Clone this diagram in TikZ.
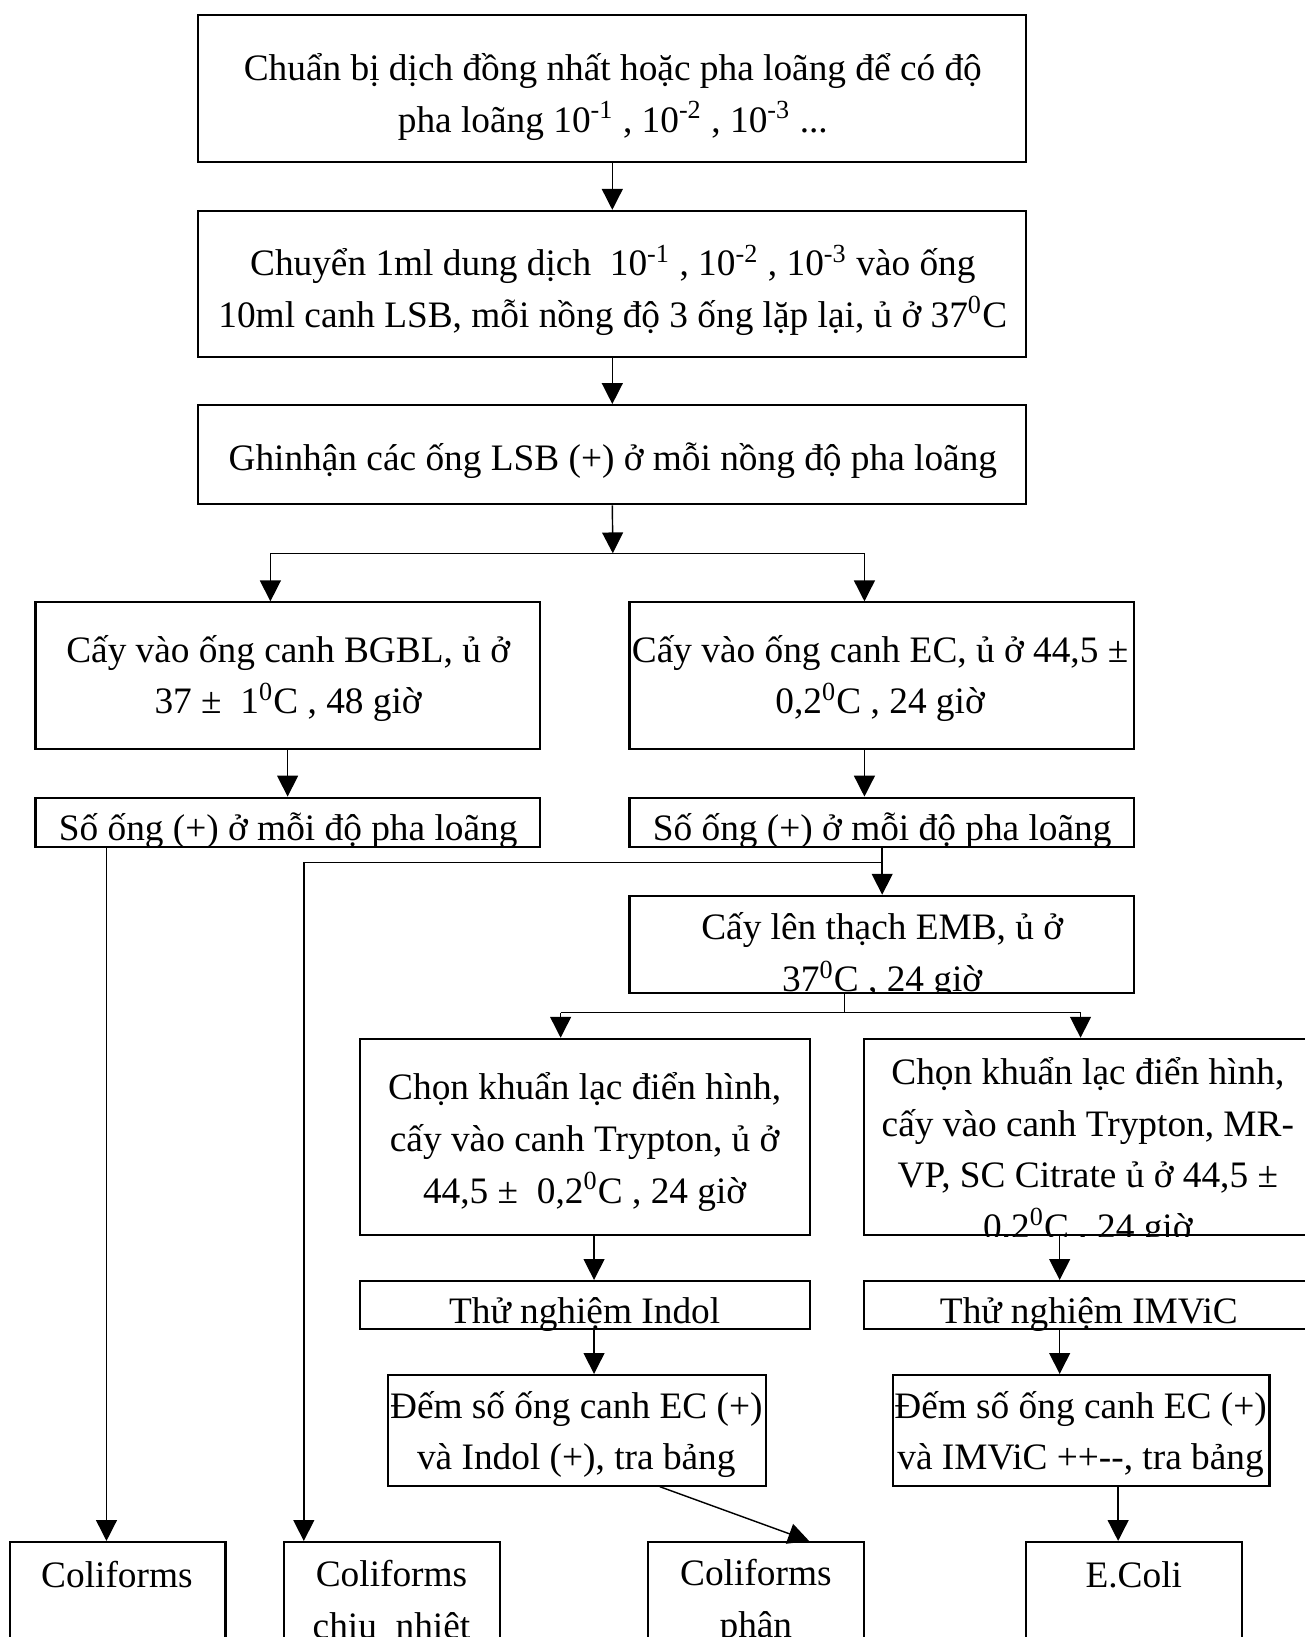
\documentclass[tikz,border=0pt]{standalone}
\usepackage{fontspec}
\setmainfont{Liberation Serif}
\usetikzlibrary{arrows.meta,calc,fit}

\tikzset{
  box/.style={draw, line width=0.8pt, inner sep=0pt},
  txt/.style={align=center, inner sep=0pt, font=\fontsize{14.3}{19.8}\selectfont},
  >={Triangle[length=8pt,width=8pt]},
}

\begin{document}
\begin{tikzpicture}[x=0.4pt,y=-0.4pt,line width=0.55pt]
\useasboundingbox (0,0) rectangle (1250,1568);

% boxes
\node[box, fit={(190,14) (983,155)}] (b1) {};
\node[box, fit={(190,202) (983,342)}] (b2) {};
\node[box, fit={(190,388) (983,483)}] (b3) {};
\node[box, fit={(34,577) (517,717)}] (b4) {};
\node[box, fit={(603,577) (1086,717)}] (b5) {};
\node[box, fit={(34,764) (517,811)}] (b6) {};
\node[box, fit={(603,764) (1086,811)}] (b7) {};
\node[box, fit={(603,858) (1086,951)}] (b8) {};
\node[box, fit={(345,995) (776,1183)}] (b9) {};
\node[box, fit={(828,995) (1262,1183)}] (b10) {};
\node[box, fit={(345,1227) (776,1273)}] (b11) {};
\node[box, fit={(828,1227) (1262,1273)}] (b12) {};
\node[box, fit={(372,1317) (734,1423)}] (b13) {};
\node[box, fit={(855,1317) (1216,1423)}] (b14) {};
\node[box, fit={(10,1477) (216,1650)}] (b15) {};
\node[box, fit={(272,1477) (479,1650)}] (b16) {};
\node[box, fit={(621,1477) (828,1650)}] (b17) {};
\node[box, fit={(983,1477) (1190,1650)}] (b18) {};

% texts
\node[txt] (t1) at (587,93) {Chuẩn bị dịch đồng nhất hoặc pha loãng để có độ\\
  pha loãng 10\textsuperscript{-1} , 10\textsuperscript{-2} , 10\textsuperscript{-3} ...};
\node[txt] (t2) at (587,278) {Chuyển 1ml dung dịch~ 10\textsuperscript{-1} , 10\textsuperscript{-2} , 10\textsuperscript{-3} vào ống\\
  10ml canh LSB, mỗi nồng độ 3 ống lặp lại, ủ ở 37\textsuperscript{0}C};
\node[txt] (t3) at (587,441) {Ghinhận các ống LSB (+) ở mỗi nồng độ pha loãng};
\node[txt] (t4) at (276,650) {Cấy vào ống canh BGBL, ủ ở\\37 ±~ 1\textsuperscript{0}C , 48 giờ};
\node[txt] (t5) at (843,650) {Cấy vào ống canh EC, ủ ở 44,5 ±\\0,2\textsuperscript{0}C , 24 giờ};
\begin{scope}
  \clip (b6.south west) rectangle (b6.north east);
  \node[txt] (t6) at (276,796) {Số ống (+) ở mỗi độ pha loãng};
\end{scope}
\begin{scope}
  \clip (b7.south west) rectangle (b7.north east);
  \node[txt] (t7) at (845,796) {Số ống (+) ở mỗi độ pha loãng};
\end{scope}
\begin{scope}
  \clip (b8.south west) rectangle (b8.north east);
  \node[txt] (t8) at (845,916) {Cấy lên thạch EMB, ủ ở\\37\textsuperscript{0}C , 24 giờ};
\end{scope}
\node[txt] (t9) at (560,1094) {Chọn khuẩn lạc điển hình,\\cấy vào canh Trypton, ủ ở\\44,5 ±~ 0,2\textsuperscript{0}C , 24 giờ};
\begin{scope}
  \clip (b10.south west) rectangle (b10.north east);
  \node[txt] (t10) at (1042,1104) {Chọn khuẩn lạc điển hình,\\cấy vào canh Trypton, MR-\\VP, SC Citrate ủ ở 44,5 ±\\0,2\textsuperscript{0}C , 24 giờ};
\end{scope}
\begin{scope}
  \clip (b11.south west) rectangle (b11.north east);
  \node[txt] (t11) at (560,1259) {Thử nghiệm Indol};
\end{scope}
\begin{scope}
  \clip (b12.south west) rectangle (b12.north east);
  \node[txt] (t12) at (1043,1259) {Thử nghiệm IMViC};
\end{scope}
\node[txt] (t13) at (552,1374) {Đếm số ống canh EC (+)\\và Indol (+), tra bảng};
\node[txt] (t14) at (1035,1374) {Đếm số ống canh EC (+)\\và IMViC ++-{}-, tra bảng};
\node[txt] (t15) at (112,1508) {Coliforms};
\node[txt] (t16) at (375,1535) {Coliforms\\chịu~ nhiệt};
\node[txt] (t17) at (724,1535) {Coliforms\\phân};
\node[txt] (t18) at (1086,1508) {E.Coli};

% connectors
\coordinate (s0) at (587,530);
\coordinate (s1) at (259,530);
\coordinate (s2) at (828,530);
\coordinate (k1) at (845,826);
\coordinate (k2) at (291,826);
\coordinate (k3) at (102,811);
\coordinate (m0) at (809,970);
\coordinate (m1) at (537,970);
\coordinate (m2) at (1035,970);
\coordinate (n1) at (569,1200);
\coordinate (n2) at (1015,1200);
\coordinate (n3) at (1071,1450);
\coordinate (p1) at (632,1423);
\coordinate (p2) at (775,1477);

\draw[->] (b1.south) -- (b2.north);
\draw[->] (b2.south) -- (b3.north);
\draw[->] (b3.south) -- (s0);
\draw (s1) -- (s2);
\draw[->] (s1) -- (b4.north -| s1);
\draw[->] (s2) -- (b5.north -| s2);
\draw[->] (b4.south) -- (b6.north);
\draw[->] (b5.south -| s2) -- (b7.north -| s2);
\draw[->] (b7.south -| k1) -- (b8.north -| k1);
\draw[->] (k1) -- (k2) -- (b16.north -| k2);
\draw[->] (b6.south -| k3) -- (b15.north -| k3);
\draw (b8.south -| m0) -- (m0);
\draw (m1) -- (m2);
\draw[->] (m1) -- (b9.north -| m1);
\draw[->] (m2) -- (b10.north -| m2);
\draw[->] (b9.south -| n1) -- (b11.north -| n1);
\draw[->] (b11.south -| n1) -- (b13.north -| n1);
\draw[->] (b10.south -| n2) -- (b12.north -| n2);
\draw[->] (b12.south -| n2) -- (b14.north -| n2);
\draw[->] (b13.south -| p1) -- (b17.north -| p2);
\draw[->] (b14.south -| n3) -- (b18.north -| n3);
\end{tikzpicture}
\end{document}
